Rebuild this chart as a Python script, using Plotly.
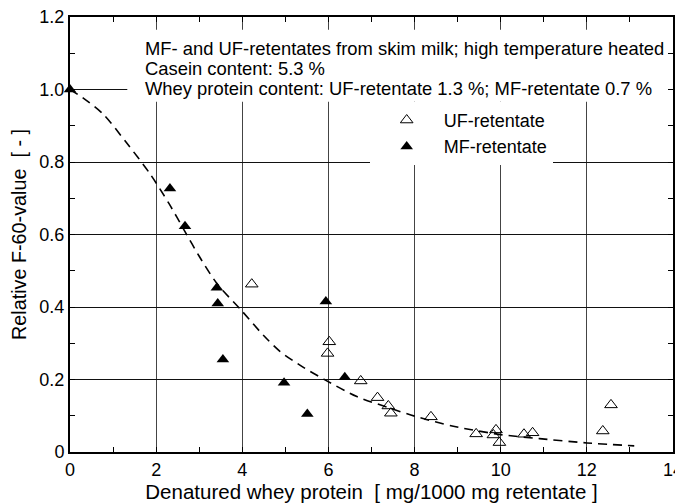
import plotly.graph_objects as go

# Dashed guide curve
curve_x = [0, 0.3, 0.77, 1.3, 1.86, 2.3, 2.67, 3.0, 3.41, 4.0, 4.49, 4.88, 5.4, 5.92, 6.66, 7.43, 8.0, 8.9, 10.0, 10.9, 12.0, 13.1]
curve_y = [1.0, 0.977, 0.932, 0.855, 0.767, 0.685, 0.608, 0.54, 0.465, 0.388, 0.322, 0.277, 0.235, 0.199, 0.153, 0.121, 0.099, 0.071, 0.048, 0.037, 0.025, 0.017]

# UF-retentate (open triangles)
uf_x = [4.22, 6.02, 5.98, 6.75, 7.14, 7.39, 7.45, 8.38, 9.43, 9.83, 9.89, 9.97, 10.54, 10.74, 12.37, 12.56]
uf_y = [0.463, 0.304, 0.272, 0.196, 0.150, 0.127, 0.107, 0.097, 0.050, 0.047, 0.061, 0.026, 0.049, 0.053, 0.058, 0.130]

# MF-retentate (filled triangles)
mf_x = [0, 2.32, 2.67, 3.41, 3.43, 3.55, 4.97, 5.51, 5.94, 6.38]
mf_y = [1.0, 0.727, 0.623, 0.453, 0.410, 0.255, 0.191, 0.105, 0.415, 0.206]

x_ticks = [0, 2, 4, 6, 8, 10, 12, 14]
y_ticks = [0, 0.2, 0.4, 0.6, 0.8, 1.0, 1.2]
y_ticktext = ["0", "0.2", "0.4", "0.6", "0.8", "1.0", "1.2"]

notes = [
    "MF- and UF-retentates from skim milk; high temperature heated",
    "Casein content: 5.3 %",
    "Whey protein content: UF-retentate 1.3 %; MF-retentate 0.7 %",
]
note_y = [1.112, 1.059, 1.004]

FONT = "Liberation Sans, Arial, sans-serif"

fig = go.Figure()
fig.add_trace(go.Scatter(x=curve_x, y=curve_y, mode="lines", line=dict(color="black", width=1.6, dash="9px,6px", shape="spline", smoothing=0.8),
                         showlegend=False, hoverinfo="skip"))
fig.add_trace(go.Scatter(x=uf_x, y=uf_y, mode="markers", name="UF-retentate", legendgroup="uf",
                         marker=dict(symbol="triangle-up-open", size=11, color="black", line=dict(width=1, color="black")),
                         cliponaxis=False))
fig.add_trace(go.Scatter(x=mf_x, y=mf_y, mode="markers", name="MF-retentate", legendgroup="mf",
                         marker=dict(symbol="triangle-up", size=11, color="black"),
                         cliponaxis=False))

# white box behind the note text (covers gridlines)
fig.add_shape(type="rect", xref="x", yref="y", x0=1.33, x1=13.97, y0=0.966, y1=1.165,
              fillcolor="white", line=dict(width=0), layer="between")

for t, yv in zip(notes, note_y):
    fig.add_annotation(x=1.70, y=yv, xref="x", yref="y", text=t, showarrow=False,
                       xanchor="left", yanchor="middle", font=dict(family=FONT, size=18.4, color="black"))

# page body has an 8px margin, so the figure is offset by (8, 8) inside the window
fig.update_layout(
    width=683, height=495,
    margin=dict(l=62, r=18, t=9, b=51),
    paper_bgcolor="white", plot_bgcolor="white",
    font=dict(family=FONT, size=18, color="black"),
    legend=dict(x=0.497, y=0.805, xanchor="left", yanchor="top", bgcolor="white",
                font=dict(family=FONT, size=18), itemwidth=64, traceorder="grouped", tracegroupgap=0),
    xaxis=dict(range=[0, 14], tickvals=x_ticks, ticks="inside", ticklen=5, tickcolor="black",
               showline=True, linecolor="black", linewidth=2, mirror="allticks",
               showgrid=True, gridcolor="#444", gridwidth=1, zeroline=False, automargin=False,
               ticklabeloverflow="allow",
               minor=dict(dtick=1, ticks="inside", ticklen=5, tickcolor="black", showgrid=False),
               tickfont=dict(family=FONT, size=18),
               title=dict(text="Denatured whey protein  [ mg/1000 mg retentate ]", font=dict(family=FONT, size=20.5))),
    yaxis=dict(range=[0, 1.2], tickvals=y_ticks, ticktext=y_ticktext, ticks="inside", ticklen=5, tickcolor="black",
               showline=True, linecolor="black", linewidth=2, mirror="allticks",
               showgrid=True, gridcolor="#111", gridwidth=1, zeroline=False, automargin=False,
               ticklabeloverflow="allow",
               minor=dict(dtick=0.1, ticks="inside", ticklen=5, tickcolor="black", showgrid=False),
               tickfont=dict(family=FONT, size=18),
               title=dict(text="Relative F-60-value  [ - ]", font=dict(family=FONT, size=19.8))),
)

fig.write_html("out.html")
